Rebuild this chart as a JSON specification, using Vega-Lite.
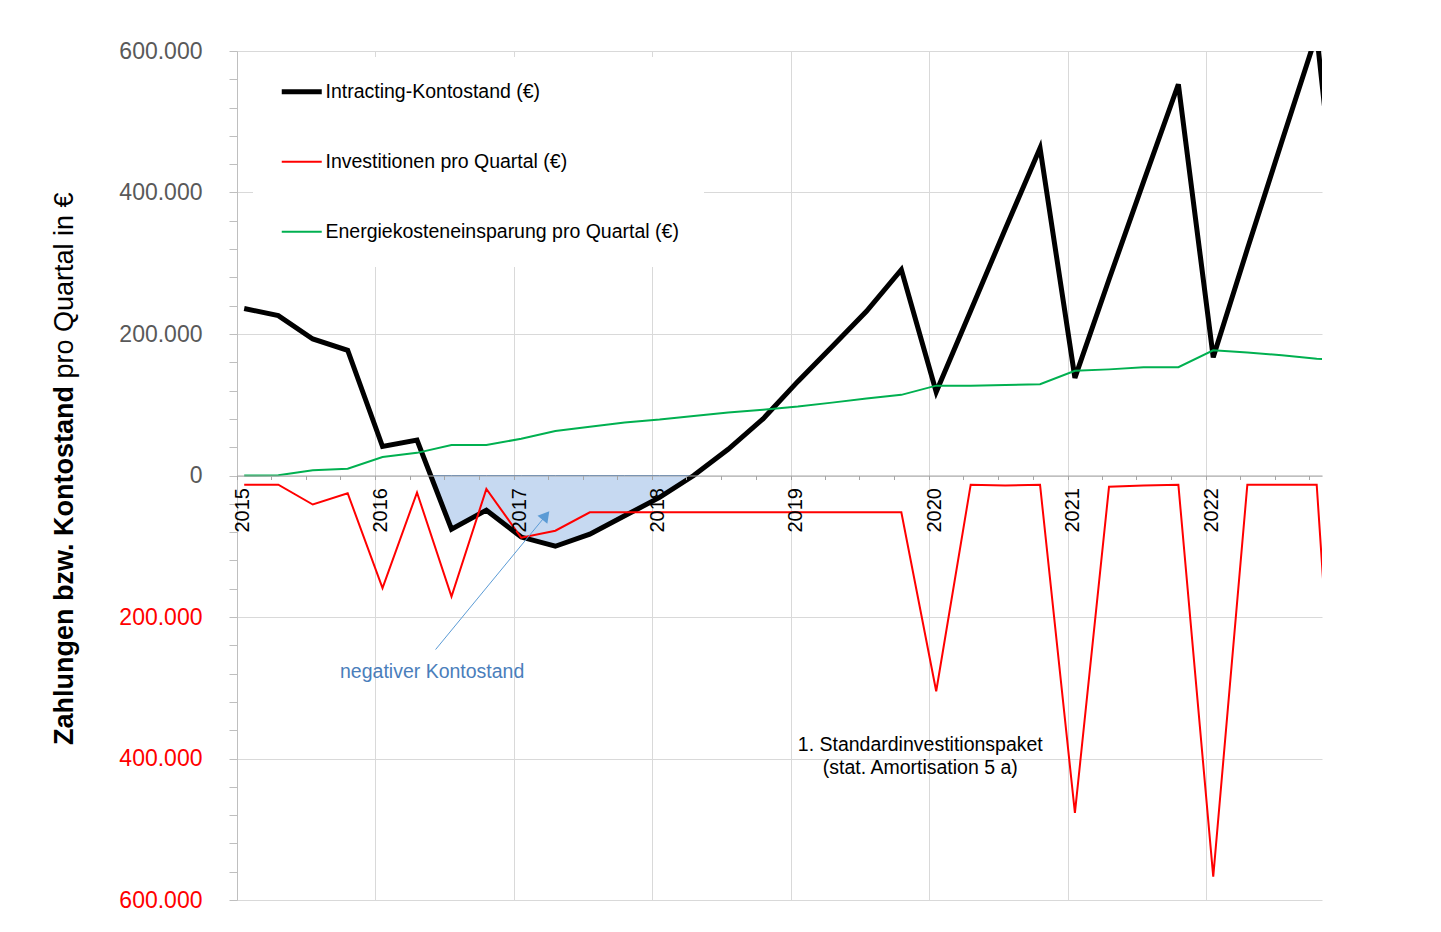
{
  "$schema": "https://vega.github.io/schema/vega-lite/v6.json",
  "width": 1085,
  "height": 849,
  "autosize": "none",
  "padding": {"left": 237, "top": 51, "right": 119, "bottom": 32},
  "background": "white",
  "config": {"font": "Liberation Sans", "view": {"stroke": null}},
  "datasets": {
    "quartale": [
      {"Datum": "2015-01-20", "Intracting-Kontostand (€)": 236000, "Investitionen pro Quartal (€)": -13000, "Energiekosteneinsparung pro Quartal (€)": 0},
      {"Datum": "2015-04-20", "Intracting-Kontostand (€)": 226000, "Investitionen pro Quartal (€)": -13000, "Energiekosteneinsparung pro Quartal (€)": 500},
      {"Datum": "2015-07-20", "Intracting-Kontostand (€)": 193000, "Investitionen pro Quartal (€)": -41000, "Energiekosteneinsparung pro Quartal (€)": 7500},
      {"Datum": "2015-10-20", "Intracting-Kontostand (€)": 177000, "Investitionen pro Quartal (€)": -25000, "Energiekosteneinsparung pro Quartal (€)": 9500},
      {"Datum": "2016-01-20", "Intracting-Kontostand (€)": 41000, "Investitionen pro Quartal (€)": -159000, "Energiekosteneinsparung pro Quartal (€)": 26000},
      {"Datum": "2016-04-20", "Intracting-Kontostand (€)": 50000, "Investitionen pro Quartal (€)": -24000, "Energiekosteneinsparung pro Quartal (€)": 32000},
      {"Datum": "2016-07-20", "Intracting-Kontostand (€)": -76000, "Investitionen pro Quartal (€)": -171000, "Energiekosteneinsparung pro Quartal (€)": 43000},
      {"Datum": "2016-10-20", "Intracting-Kontostand (€)": -49000, "Investitionen pro Quartal (€)": -19000, "Energiekosteneinsparung pro Quartal (€)": 43000},
      {"Datum": "2017-01-20", "Intracting-Kontostand (€)": -87000, "Investitionen pro Quartal (€)": -88000, "Energiekosteneinsparung pro Quartal (€)": 52000},
      {"Datum": "2017-04-20", "Intracting-Kontostand (€)": -100000, "Investitionen pro Quartal (€)": -78000, "Energiekosteneinsparung pro Quartal (€)": 63000},
      {"Datum": "2017-07-20", "Intracting-Kontostand (€)": -83000, "Investitionen pro Quartal (€)": -52000, "Energiekosteneinsparung pro Quartal (€)": 69000},
      {"Datum": "2017-10-20", "Intracting-Kontostand (€)": -57000, "Investitionen pro Quartal (€)": -52000, "Energiekosteneinsparung pro Quartal (€)": 75000},
      {"Datum": "2018-01-20", "Intracting-Kontostand (€)": -31000, "Investitionen pro Quartal (€)": -52000, "Energiekosteneinsparung pro Quartal (€)": 79000},
      {"Datum": "2018-04-20", "Intracting-Kontostand (€)": 0, "Investitionen pro Quartal (€)": -52000, "Energiekosteneinsparung pro Quartal (€)": 84000},
      {"Datum": "2018-07-20", "Intracting-Kontostand (€)": 37000, "Investitionen pro Quartal (€)": -52000, "Energiekosteneinsparung pro Quartal (€)": 89000},
      {"Datum": "2018-10-20", "Intracting-Kontostand (€)": 80000, "Investitionen pro Quartal (€)": -52000, "Energiekosteneinsparung pro Quartal (€)": 93000},
      {"Datum": "2019-01-20", "Intracting-Kontostand (€)": 133000, "Investitionen pro Quartal (€)": -52000, "Energiekosteneinsparung pro Quartal (€)": 97500},
      {"Datum": "2019-04-20", "Intracting-Kontostand (€)": 182000, "Investitionen pro Quartal (€)": -52000, "Energiekosteneinsparung pro Quartal (€)": 103000},
      {"Datum": "2019-07-20", "Intracting-Kontostand (€)": 232000, "Investitionen pro Quartal (€)": -52000, "Energiekosteneinsparung pro Quartal (€)": 109000},
      {"Datum": "2019-10-20", "Intracting-Kontostand (€)": 291000, "Investitionen pro Quartal (€)": -52000, "Energiekosteneinsparung pro Quartal (€)": 114000},
      {"Datum": "2020-01-20", "Intracting-Kontostand (€)": 118000, "Investitionen pro Quartal (€)": -305000, "Energiekosteneinsparung pro Quartal (€)": 127000},
      {"Datum": "2020-04-20", "Intracting-Kontostand (€)": 233000, "Investitionen pro Quartal (€)": -13000, "Energiekosteneinsparung pro Quartal (€)": 127000},
      {"Datum": "2020-07-20", "Intracting-Kontostand (€)": 348000, "Investitionen pro Quartal (€)": -14000, "Energiekosteneinsparung pro Quartal (€)": 128000},
      {"Datum": "2020-10-20", "Intracting-Kontostand (€)": 463000, "Investitionen pro Quartal (€)": -13000, "Energiekosteneinsparung pro Quartal (€)": 129000},
      {"Datum": "2021-01-20", "Intracting-Kontostand (€)": 138000, "Investitionen pro Quartal (€)": -477000, "Energiekosteneinsparung pro Quartal (€)": 148000},
      {"Datum": "2021-04-20", "Intracting-Kontostand (€)": 277000, "Investitionen pro Quartal (€)": -16000, "Energiekosteneinsparung pro Quartal (€)": 150000},
      {"Datum": "2021-07-20", "Intracting-Kontostand (€)": 415000, "Investitionen pro Quartal (€)": -14000, "Energiekosteneinsparung pro Quartal (€)": 153000},
      {"Datum": "2021-10-20", "Intracting-Kontostand (€)": 553000, "Investitionen pro Quartal (€)": -13000, "Energiekosteneinsparung pro Quartal (€)": 153000},
      {"Datum": "2022-01-20", "Intracting-Kontostand (€)": 167000, "Investitionen pro Quartal (€)": -567000, "Energiekosteneinsparung pro Quartal (€)": 177000},
      {"Datum": "2022-04-20", "Intracting-Kontostand (€)": 320000, "Investitionen pro Quartal (€)": -13000, "Energiekosteneinsparung pro Quartal (€)": 174000},
      {"Datum": "2022-07-20", "Intracting-Kontostand (€)": 472000, "Investitionen pro Quartal (€)": -13000, "Energiekosteneinsparung pro Quartal (€)": 170000},
      {"Datum": "2022-10-20", "Intracting-Kontostand (€)": 624000, "Investitionen pro Quartal (€)": -13000, "Energiekosteneinsparung pro Quartal (€)": 165000},
      {"Datum": "2023-01-20", "Intracting-Kontostand (€)": 165000, "Investitionen pro Quartal (€)": -750000, "Energiekosteneinsparung pro Quartal (€)": 163000}
    ],
    "negativ": [
      {"Datum": "2016-05-26", "Kontostand": 0},
      {"Datum": "2016-07-20", "Kontostand": -76000},
      {"Datum": "2016-10-20", "Kontostand": -49000},
      {"Datum": "2017-01-20", "Kontostand": -87000},
      {"Datum": "2017-04-20", "Kontostand": -100000},
      {"Datum": "2017-07-20", "Kontostand": -83000},
      {"Datum": "2017-10-20", "Kontostand": -57000},
      {"Datum": "2018-01-20", "Kontostand": -31000},
      {"Datum": "2018-04-20", "Kontostand": 0}
    ],
    "pfeil": [
      {"von": "2016-06-08", "vonWert": -246000, "bis": "2017-03-26", "bisWert": -56500}
    ],
    "notizBlau": [
      {"Datum": "2016-05-30", "Wert": -277500, "Text": "negativer Kontostand"}
    ],
    "notizSchwarz": [
      {"Datum": "2019-12-09", "Wert": -381000, "Text": "1. Standardinvestitionspaket"},
      {"Datum": "2019-12-09", "Wert": -413000, "Text": "(stat. Amortisation 5 a)"}
    ]
  },
  "layer": [
    {
      "data": {"name": "negativ"},
      "mark": {"type": "area", "fill": "#c6d9f1", "stroke": "#4f81bd", "strokeWidth": 1, "clip": true},
      "encoding": {
        "x": {
          "field": "Datum", "type": "temporal",
          "scale": {"type": "utc", "domain": [{"year": 2015, "month": 1, "date": 1, "utc": true}, {"year": 2022, "month": 11, "date": 3, "utc": true}]},
          "axis": {
            "orient": "bottom", "title": null, "labels": false, "ticks": false, "domain": false,
            "grid": true, "gridColor": "#d9d9d9", "gridWidth": 1,
            "gridOpacity": {"condition": {"test": "utcmonth(datum.value) === 0", "value": 1}, "value": 0},
            "tickCount": {"interval": "month", "step": 3}, "zindex": 0
          }
        },
        "y": {
          "field": "Kontostand", "type": "quantitative",
          "scale": {"domain": [-600000, 600000], "nice": false, "zero": false},
          "axis": {
            "orient": "left",
            "values": [-600000, -560000, -520000, -480000, -440000, -400000, -360000, -320000, -280000, -240000, -200000, -160000, -120000, -80000, -40000, 0, 40000, 80000, 120000, 160000, 200000, 240000, 280000, 320000, 360000, 400000, 440000, 480000, 520000, 560000, 600000],
            "labelExpr": "datum.value % 200000 === 0 ? replace(format(abs(datum.value), ','), ',', '.') : ''",
            "labelColor": {"condition": {"test": "datum.value < 0", "value": "#ff0000"}, "value": "#595959"},
            "labelFontSize": 23, "labelPadding": 27, "labelOverlap": false, "labelBound": false, "labelFlush": false,
            "tickSize": 8, "tickColor": "#bfbfbf", "domainColor": "#bfbfbf",
            "grid": true, "gridColor": "#d9d9d9", "gridWidth": 1,
            "gridOpacity": {"condition": {"test": "datum.value % 200000 === 0", "value": 1}, "value": 0},
            "title": "Zahlungen bzw. Kontostand", "titleFontSize": 27, "titleFontWeight": "bold", "titleColor": "#000000",
            "titleAngle": 270, "titleAlign": "center", "titleBaseline": "alphabetic", "titleX": -165, "titleY": 514,
            "zindex": 0
          }
        },
        "y2": {"datum": 0}
      }
    },
    {
      "data": {"name": "quartale"},
      "transform": [{"fold": ["Intracting-Kontostand (€)", "Investitionen pro Quartal (€)", "Energiekosteneinsparung pro Quartal (€)"], "as": ["Reihe", "Wert"]}],
      "mark": {"type": "line", "clip": true},
      "encoding": {
        "x": {
          "field": "Datum", "type": "temporal",
          "axis": {
            "orient": "bottom", "offset": -424.5, "title": null, "grid": false,
            "tickCount": {"interval": "month", "step": 3},
            "labelExpr": "utcmonth(datum.value) === 0 ? utcFormat(datum.value, '%Y') : ''",
            "labelAngle": 270, "labelFontSize": 20, "labelColor": "#000000", "labelPadding": 8, "labelOffset": 5,
            "labelOverlap": false, "labelFlush": false, "labelBound": false,
            "tickSize": 4, "tickColor": "#a6a6a6", "domainColor": "#a6a6a6", "domainWidth": 1,
            "zindex": 1
          }
        },
        "y": {
          "field": "Wert", "type": "quantitative",
          "axis": {
            "orient": "left", "labels": false, "ticks": false, "domain": false, "grid": false,
            "title": "pro Quartal in €", "titleFontSize": 27, "titleFontWeight": "normal", "titleColor": "#000000",
            "titleAngle": 270, "titleAlign": "center", "titleBaseline": "alphabetic", "titleX": -165, "titleY": 234
          }
        },
        "color": {
          "field": "Reihe", "type": "nominal",
          "scale": {"domain": ["Intracting-Kontostand (€)", "Investitionen pro Quartal (€)", "Energiekosteneinsparung pro Quartal (€)"], "range": ["#000000", "#ff0000", "#00b050"]},
          "legend": {
            "orient": "none", "legendX": 16, "legendY": 6, "title": null, "direction": "vertical",
            "padding": 25, "fillColor": "white",
            "symbolType": "stroke", "symbolSize": 1600, "symbolOffset": 14,
            "labelFontSize": 19.5, "labelColor": "#000000", "labelOffset": 14, "labelLimit": 600,
            "rowPadding": 49,
            "encode": {"symbols": {"update": {"strokeWidth": {"signal": "datum.value === 'Intracting-Kontostand (€)' ? 5 : 2"}}}}
          }
        },
        "strokeWidth": {"condition": {"test": "datum.Reihe === 'Intracting-Kontostand (€)'", "value": 5}, "value": 2}
      }
    },
    {
      "data": {"name": "pfeil"},
      "mark": {"type": "rule", "color": "#5b9bd5", "strokeWidth": 1},
      "encoding": {
        "x": {"field": "von", "type": "temporal", "axis": null},
        "y": {"field": "vonWert", "type": "quantitative", "axis": null},
        "x2": {"field": "bis"},
        "y2": {"field": "bisWert"}
      }
    },
    {
      "data": {"name": "pfeil"},
      "mark": {"type": "point", "shape": "triangle-up", "filled": true, "color": "#5b9bd5", "opacity": 1, "size": 160, "angle": 39},
      "encoding": {
        "x": {"field": "bis", "type": "temporal", "axis": null},
        "y": {"field": "bisWert", "type": "quantitative", "axis": null}
      }
    },
    {
      "data": {"name": "notizBlau"},
      "mark": {"type": "text", "color": "#4a7ebb", "fontSize": 19.5, "align": "center", "baseline": "middle"},
      "encoding": {
        "x": {"field": "Datum", "type": "temporal", "axis": null},
        "y": {"field": "Wert", "type": "quantitative", "axis": null},
        "text": {"field": "Text"}
      }
    },
    {
      "data": {"name": "notizSchwarz"},
      "mark": {"type": "text", "color": "#000000", "fontSize": 19.5, "align": "center", "baseline": "middle"},
      "encoding": {
        "x": {"field": "Datum", "type": "temporal", "axis": null},
        "y": {"field": "Wert", "type": "quantitative", "axis": null},
        "text": {"field": "Text"}
      }
    }
  ],
  "resolve": {"axis": {"x": "independent", "y": "independent"}}
}
